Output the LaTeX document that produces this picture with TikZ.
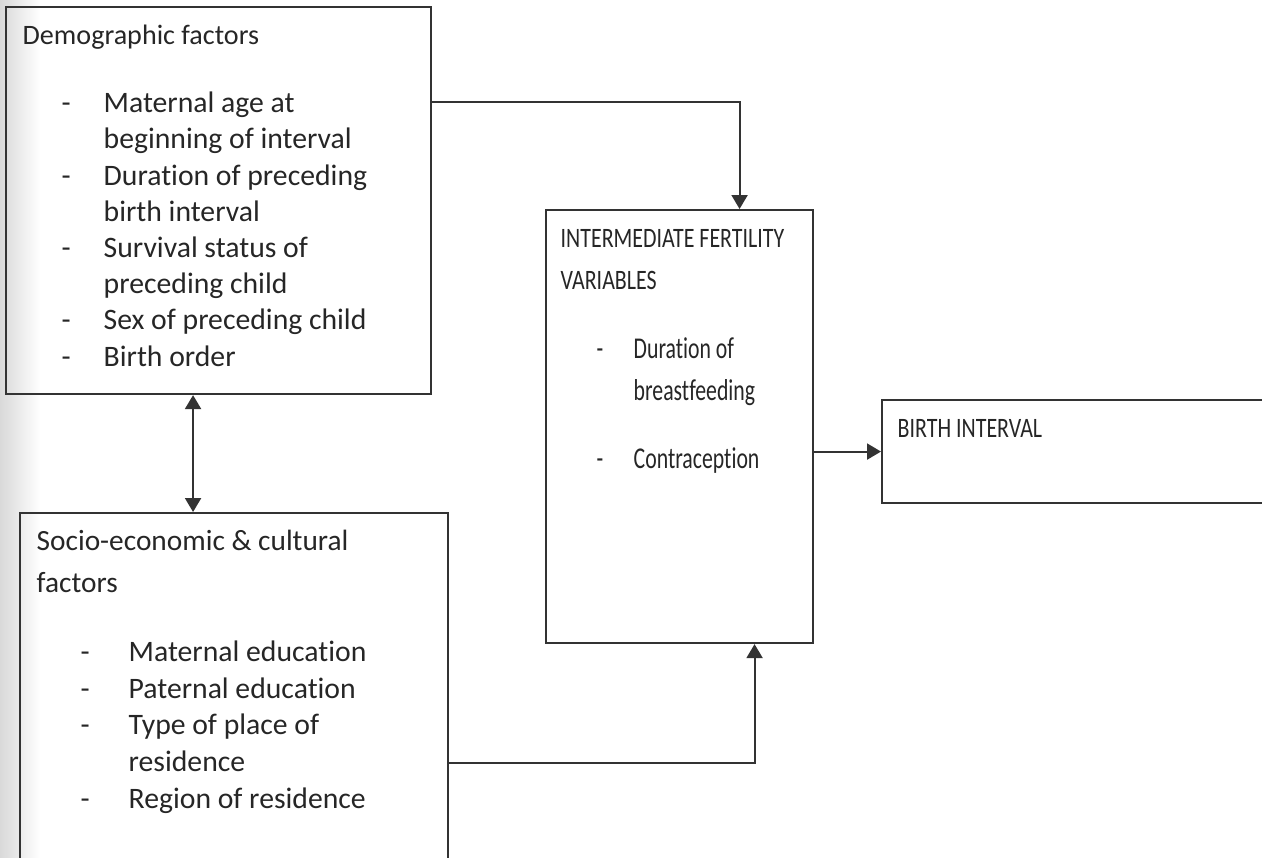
\documentclass[tikz,border=0pt]{standalone}
\usepackage{fontspec}
\setmainfont{Carlito}[Ligatures=NoCommon]
\newfontfamily\narrowfont[FakeStretch=0.72,Ligatures=NoCommon]{Carlito}
\newfontfamily\capsfont[FakeStretch=0.78,Ligatures=NoCommon]{Carlito}
\usetikzlibrary{arrows.meta,positioning}

\tikzset{
  arrhead/.tip={Triangle[width=1.6mm,length=1.4mm]},
  box/.style={draw=black!80, line width=0.6pt, anchor=north west, inner sep=0pt},
  head/.style={anchor=base west, inner sep=0pt, text=black!85, align=left,
    font=\fontsize{8}{11.9}\selectfont},
  items/.style={anchor=base west, inner sep=0pt, text=black!85, align=left,
    font=\fontsize{8.45}{10.3}\selectfont},
  link/.style={draw=black!80, line width=0.6pt, -arrhead},
  twoway/.style={draw=black!80, line width=0.6pt, arrhead-arrhead},
}
\newcommand{\dashitem}[2][4.2mm]{\makebox[#1][l]{-}#2}
\newcommand{\contline}[2][4.2mm]{\makebox[#1][l]{}#2}

\begin{document}
\begin{tikzpicture}
  \useasboundingbox (0,0) rectangle (12.62,-8.57);
  % scanner shadow on the left edge
  \shade[left color=black!15, right color=white] (0,0) rectangle (0.4,-8.57);

  % boxes
  \node[box, minimum width=4.25cm, minimum height=3.87cm] (demo) at (0.05,-0.06) {};
  \node[box, minimum width=4.28cm, minimum height=3.5cm] (socio) at (0.19,-5.12) {};
  \node[box, minimum width=2.67cm, minimum height=4.33cm] (inter) at (5.45,-2.09) {};
  \node[box, minimum width=4cm, minimum height=1.03cm] (birth) at (8.81,-3.99) {};

  % texts (anchored at the baseline of the last line)
  \node[head] (demohead) at (0.22,-0.44) {Demographic factors};
  \node[items] (demolist) at (0.61,-3.66) {%
    \dashitem{Maternal age at}\\
    \contline{beginning of interval}\\
    \dashitem{Duration of preceding}\\
    \contline{birth interval}\\
    \dashitem{Survival status of}\\
    \contline{preceding child}\\
    \dashitem{Sex of preceding child}\\
    \dashitem{Birth order}};

  \node[head, font=\fontsize{8.35}{11.9}\selectfont] (sociohead) at (0.36,-5.92) {Socio-economic \& cultural\\factors};
  \node[items, font=\fontsize{8.45}{10.4}\selectfont] (sociolist) at (0.80,-8.08) {%
    \dashitem[4.8mm]{Maternal education}\\
    \dashitem[4.8mm]{Paternal education}\\
    \dashitem[4.8mm]{Type of place of}\\
    \contline[4.8mm]{residence}\\
    \dashitem[4.8mm]{Region of residence}};

  \node[head, font=\capsfont\fontsize{8}{11.9}\selectfont] (interhead) at (5.60,-2.89) {INTERMEDIATE FERTILITY\\VARIABLES};
  \node[items, font=\narrowfont\fontsize{8.6}{11.9}\selectfont] (interlist) at (5.96,-4.68) {%
    \dashitem[3.7mm]{Duration of}\\
    \contline[3.7mm]{breastfeeding}\\[2.6mm]
    \dashitem[3.7mm]{Contraception}};

  \node[head, font=\capsfont\fontsize{8}{11.9}\selectfont] (birthhead) at (8.97,-4.37) {BIRTH INTERVAL};

  % connectors
  \draw[link] ([yshift=-9.6mm]demo.north east) -| ([xshift=6mm]inter.north);
  \draw[link] ([yshift=-25.1mm]socio.north east) -| ([xshift=7.5mm]inter.south);
  \draw[link] (inter.east |- birth.west) -- (birth.west);
  \draw[twoway] ([xshift=-2.55mm]demo.south) -- ([xshift=-2.55mm]demo.south |- socio.north);
\end{tikzpicture}
\end{document}
